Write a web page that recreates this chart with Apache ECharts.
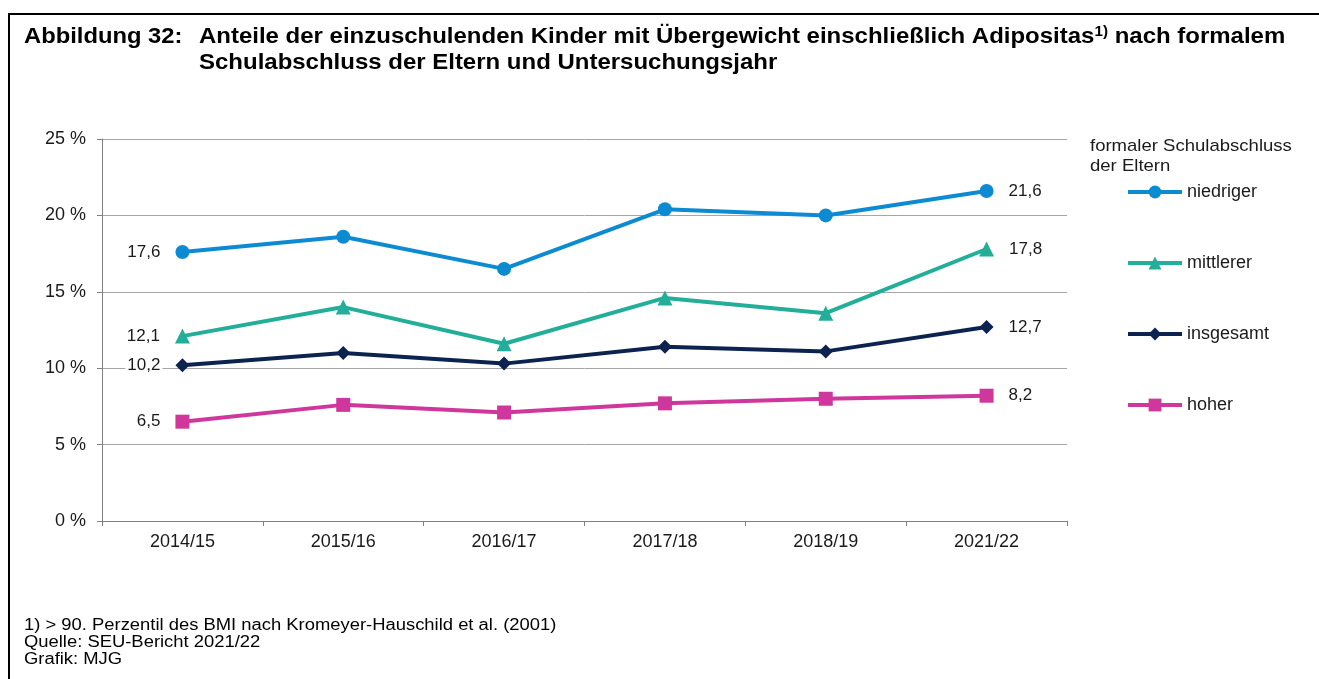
<!DOCTYPE html>
<html>
<head>
<meta charset="utf-8">
<script src="https://cdn.jsdelivr.net/npm/echarts@6/dist/echarts.min.js"></script>
<style>
  html, body { margin: 0; padding: 0; background: #fff; }
  #chart { width: 1319px; height: 679px; }
</style>
</head>
<body>
<div id="chart"></div>
<script>
var years = ['2014/15', '2015/16', '2016/17', '2017/18', '2018/19', '2021/22'];
var niedriger = [17.6, 18.6, 16.5, 20.4, 20.0, 21.6];
var mittlerer = [12.1, 14.0, 11.6, 14.6, 13.6, 17.8];
var insgesamt = [10.2, 11.0, 10.3, 11.4, 11.1, 12.7];
var hoher = [6.5, 7.6, 7.1, 7.7, 8.0, 8.2];
var footnotes = [
  '1) > 90. Perzentil des BMI nach Kromeyer-Hauschild et al. (2001)',
  'Quelle: SEU-Bericht 2021/22',
  'Grafik: MJG'
];

var FONT = '"Liberation Sans", Arial, sans-serif';

// Beschriftung nur am ersten und letzten Punkt
function points(values) {
  return values.map(function (v, i) {
    var item = { value: v };
    if (i == 0) item.label = { show: true, position: 'left', distance: 13 };
    if (i == values.length - 1) item.label = { show: true, position: 'right', distance: 13 };
    return item;
  });
}

function makeSeries(name, values, color, symbol, size) {
  return {
    name: name,
    type: 'line',
    data: points(values),
    symbol: symbol,
    symbolSize: size,
    showAllSymbol: true,
    lineStyle: { color: color, width: 4 },
    itemStyle: { color: color },
    label: {
      show: false,
      fontFamily: FONT,
      fontSize: 17,
      color: '#1a1a1a',
      backgroundColor: '#fff',
      padding: [1, 2],
      formatter: function (p) { return p.value.toFixed(1).replace('.', ','); }
    },
    emphasis: { disabled: true }
  };
}

function textEl(x, y, text, size, weight, lh, color, sx, rich) {
  return {
    type: 'text',
    x: x,
    y: y,
    scaleX: sx,
    style: {
      x: 0, y: 0,
      text: text,
      fontFamily: FONT,
      fontSize: size,
      fontWeight: weight,
      lineHeight: lh,
      fill: color,
      textVerticalAlign: 'top',
      rich: rich || {}
    }
  };
}

var supRich = {
  sup: { fontFamily: FONT, fontSize: 14, fontWeight: 'bold', fill: '#000', verticalAlign: 'top', padding: [0, 0, 9, 0] }
};

var dom = document.getElementById('chart');
var myChart = echarts.init(dom);
var option = {
  animation: false,
  textStyle: { fontFamily: FONT },
  legend: {
    orient: 'vertical',
    left: 1126,
    top: 183,
    padding: 0,
    itemWidth: 54,
    itemHeight: 16,
    itemGap: 53,
    lineStyle: { width: 4 },
    textStyle: { fontFamily: FONT, fontSize: 18, lineHeight: 16, color: '#1a1a1a', padding: [0, 0, 0, 0] },
    data: ['niedriger', 'mittlerer', 'insgesamt', 'hoher']
  },
  grid: { left: 102, right: 252, top: 139, bottom: 158 },
  xAxis: {
    type: 'category',
    data: years,
    boundaryGap: true,
    axisLine: { lineStyle: { color: '#808080' } },
    axisTick: { show: true, length: 5, lineStyle: { color: '#808080' } },
    axisLabel: { fontFamily: FONT, fontSize: 18, color: '#1a1a1a', margin: 12 }
  },
  yAxis: {
    type: 'value',
    min: 0,
    max: 25,
    interval: 5,
    axisLine: { show: true, lineStyle: { color: '#808080' } },
    axisTick: { show: true, length: 5, lineStyle: { color: '#808080' } },
    axisLabel: { fontFamily: FONT, fontSize: 18, color: '#1a1a1a', margin: 16, formatter: '{value} %' },
    splitLine: { lineStyle: { color: '#a6a6a6', width: 1 } }
  },
  graphic: [
    {
      type: 'rect',
      shape: { x: 9, y: 14, width: 1330, height: 700 },
      style: { fill: 'none', stroke: '#000', lineWidth: 2 },
      z: 100
    },
    textEl(24, 25, 'Abbildung 32:', 22, 'bold', 24, '#000', 1.08),
    textEl(199, 25, 'Anteile der einzuschulenden Kinder mit Übergewicht einschließlich Adipositas{sup|1)} nach formalem', 22, 'bold', 24, '#000', 1.09, supRich),
    textEl(199, 51, 'Schulabschluss der Eltern und Untersuchungsjahr', 22, 'bold', 24, '#000', 1.09),
    textEl(1090, 136, 'formaler Schulabschluss\nder Eltern', 17, 'normal', 20, '#1a1a1a', 1.09),
    textEl(24, 617, footnotes.join('\n'), 16, 'normal', 17, '#000', 1.15)
  ],
  series: [
    makeSeries('niedriger', niedriger, '#0d8bd2', 'circle', 14),
    makeSeries('mittlerer', mittlerer, '#22ae98', 'triangle', 15),
    makeSeries('insgesamt', insgesamt, '#0c2350', 'diamond', 14),
    makeSeries('hoher', hoher, '#cf379d', 'rect', 14)
  ]
};
myChart.setOption(option, true);
window.addEventListener('resize', () => {
  myChart.resize();
});
</script>
</body>
</html>
